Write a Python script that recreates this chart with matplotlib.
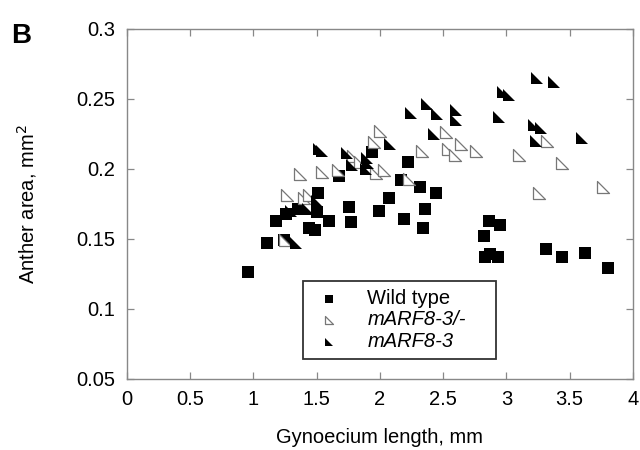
import matplotlib
matplotlib.use("Agg")
import matplotlib.pyplot as plt
from matplotlib.path import Path

plt.rcParams['font.family'] = ['Liberation Sans', 'DejaVu Sans']

# ---------------------------------- DATA ---------------------------------- #

# Wild type (filled squares)
wt_x = [0.96, 1.11, 1.18, 1.24, 1.26, 1.35, 1.44, 1.49, 1.50, 1.51, 1.60, 1.68,
        1.76, 1.77, 1.94, 1.99, 2.07, 2.17, 2.19, 2.22, 2.32, 2.34, 2.36, 2.44,
        2.82, 2.83, 2.86, 2.87, 2.93, 2.95, 3.31, 3.44, 3.62, 3.80]
wt_y = [0.126, 0.147, 0.163, 0.149, 0.168, 0.171, 0.158, 0.156, 0.169, 0.183, 0.163, 0.195,
        0.173, 0.162, 0.212, 0.170, 0.179, 0.192, 0.164, 0.205, 0.187, 0.158, 0.171, 0.183,
        0.152, 0.137, 0.163, 0.139, 0.137, 0.160, 0.143, 0.137, 0.140, 0.129]

# mARF8-3/- (open triangles)
het_x = [1.25, 1.27, 1.37, 1.40, 1.44, 1.54, 1.67, 1.79, 1.84, 1.95, 2.00, 1.97, 2.03,
         2.23, 2.33, 2.52, 2.54, 2.59, 2.64, 2.76, 3.10, 3.32, 3.44, 3.26, 3.76]
het_y = [0.149, 0.181, 0.196, 0.179, 0.181, 0.198, 0.199, 0.209, 0.205, 0.219, 0.227, 0.197, 0.199,
         0.193, 0.213, 0.226, 0.214, 0.210, 0.218, 0.213, 0.210, 0.220, 0.204, 0.183, 0.187]

# mARF8-3 (filled triangles)
mut_x = [1.30, 1.34, 1.43, 1.50, 1.52, 1.54, 1.74, 1.78, 1.89, 1.90, 1.91, 2.08, 2.25, 2.37,
         2.43, 2.45, 2.60, 2.60, 2.94, 2.97, 3.02, 3.22, 3.27, 3.23, 3.24, 3.38, 3.60]
mut_y = [0.170, 0.147, 0.171, 0.177, 0.214, 0.213, 0.211, 0.203, 0.200, 0.208, 0.204, 0.218, 0.240, 0.246,
         0.225, 0.239, 0.242, 0.235, 0.237, 0.255, 0.253, 0.231, 0.229, 0.220, 0.265, 0.262, 0.222]

series_labels = ['Wild type', 'mARF8-3/-', 'mARF8-3']

x_ticks = [0, 0.5, 1, 1.5, 2, 2.5, 3, 3.5, 4]
x_tick_labels = ['0', '0.5', '1', '1.5', '2', '2.5', '3', '3.5', '4']
y_ticks = [0.05, 0.1, 0.15, 0.2, 0.25, 0.3]
y_tick_labels = ['0.05', '0.1', '0.15', '0.2', '0.25', '0.3']

# --------------------------------- FIGURE --------------------------------- #

# half-square triangle marker (right angle at the lower left)
tri = Path([(-1, 1), (-1, -1), (1, -1), (-1, 1)],
           [Path.MOVETO, Path.LINETO, Path.LINETO, Path.CLOSEPOLY])

fig = plt.figure(figsize=(6.4, 4.5), dpi=100)
ax = fig.add_axes([0.198, 0.158, 0.791, 0.778])

ax.scatter(wt_x, wt_y, marker='s', s=70, color='black', linewidths=0,
           label=series_labels[0], zorder=3)
ax.scatter(het_x, het_y, marker=tri, s=72, facecolor='white', edgecolor='#777777',
           linewidths=0.9, label=series_labels[1], zorder=4)
ax.scatter(mut_x, mut_y, marker=tri, s=72, color='black', linewidths=0,
           label=series_labels[2], zorder=5)

ax.set_xlim(0, 4)
ax.set_ylim(0.05, 0.3)
ax.set_xticks(x_ticks)
ax.set_xticklabels(x_tick_labels)
ax.set_yticks(y_ticks)
ax.set_yticklabels(y_tick_labels)

for sp in ax.spines.values():
    sp.set_color('#888888')
    sp.set_linewidth(1.0)

ax.tick_params(direction='in', length=5, width=0.9, color='#888888',
               labelsize=14.5, top=True, right=True)
ax.tick_params(axis='x', pad=8)
ax.tick_params(axis='y', pad=8)

ax.set_xlabel('Gynoecium length, mm', fontsize=14.5)
ax.set_ylabel('Anther area, mm$^2$', fontsize=14.5)
ax.xaxis.set_label_coords(0.5, -0.166)
ax.xaxis.label.set_va('center')
ax.yaxis.set_label_coords(-0.197, 0.5)
ax.yaxis.label.set_va('center')

leg = ax.legend(loc='lower left', bbox_to_anchor=(0.348, 0.057, 0.381, 0.237),
                mode='expand', fontsize=14.5, frameon=True, fancybox=False,
                handletextpad=1.0, borderpad=0.4, labelspacing=0.12,
                handlelength=1.8, markerscale=0.7, borderaxespad=0)
leg.get_frame().set_edgecolor('black')
leg.get_frame().set_linewidth(1.3)
for t in leg.get_texts()[1:]:
    t.set_fontstyle('italic')

fig.text(0.018, 0.905, 'B', fontsize=20, fontweight='bold')

fig.savefig('out.png', dpi=100)
